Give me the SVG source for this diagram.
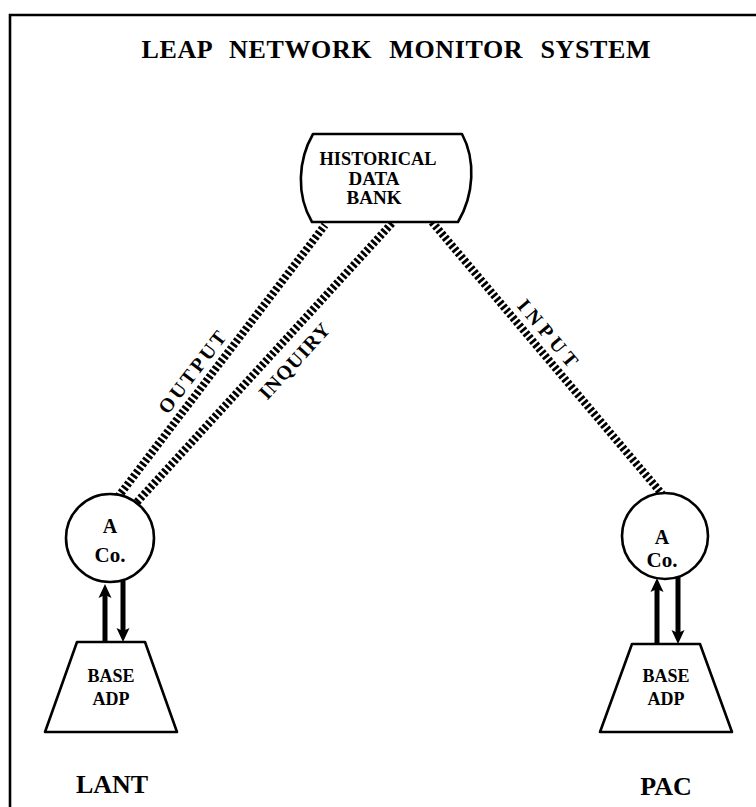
<svg xmlns="http://www.w3.org/2000/svg" width="756" height="807" viewBox="0 0 756 807">
<style>
  .t { font-family: "Liberation Serif", "Times New Roman", serif; font-weight: bold; fill: #000; text-anchor: middle; }
  .shape { fill: #fff; stroke: #000; stroke-width: 2.6; stroke-linejoin: round; }
  .hatch { fill: none; stroke: #000; stroke-width: 8; stroke-dasharray: 2.8 2.2; }
  .arrow { fill: none; stroke: #000; stroke-width: 5; marker-end: url(#head); }
  .frame { fill: none; stroke: #000; stroke-width: 2.6; }
</style>
<defs>
  <marker id="head" markerUnits="userSpaceOnUse" markerWidth="16" markerHeight="16" refX="6" refY="8" orient="auto">
    <path d="M0,1.5 L14,8 L0,14.5 L3,8 z" fill="#000"/>
  </marker>
</defs>
<rect width="756" height="807" fill="#fff"/>
<path class="frame" d="M10,807 L10,15 L756,15"/>
<text class="t" x="396" y="58" font-size="26" textLength="509" lengthAdjust="spacing" word-spacing="10">LEAP NETWORK MONITOR SYSTEM</text>

<g id="connectors">
  <line class="hatch" x1="118" y1="497" x2="325" y2="225"/>
  <line class="hatch" x1="137" y1="502" x2="393" y2="222"/>
  <line class="hatch" x1="432" y1="222" x2="662" y2="494" stroke-dasharray="2.6 1.6"/>
  <line class="arrow" x1="105" y1="642" x2="105" y2="592"/>
  <line class="arrow" x1="123" y1="581" x2="123" y2="634"/>
  <line class="arrow" x1="657" y1="644" x2="657" y2="586"/>
  <line class="arrow" x1="678" y1="577" x2="678" y2="636"/>
  <g transform="translate(192,372) rotate(-52.7)"><text class="t" x="0" y="7" font-size="20" textLength="98" lengthAdjust="spacing">OUTPUT</text></g>
  <g transform="translate(294,361) rotate(-47.6)"><text class="t" x="0" y="7" font-size="20" textLength="95" lengthAdjust="spacing">INQUIRY</text></g>
  <g transform="translate(548,333) rotate(49.8)"><text class="t" x="0" y="7" font-size="20" textLength="82" lengthAdjust="spacing">INPUT</text></g>
</g>

<g id="historical-data-bank">
  <path class="shape" d="M313,134 L462,134 C476,160 474,195 458,222 L312,222 C296,195 298,160 313,134 Z"/>
  <text class="t" x="378" y="165" font-size="19" textLength="117" lengthAdjust="spacingAndGlyphs">HISTORICAL</text>
  <text class="t" x="374" y="185" font-size="19">DATA</text>
  <text class="t" x="374" y="204" font-size="19">BANK</text>
</g>

<g id="lant-aco">
  <circle class="shape" cx="110" cy="538" r="44"/>
  <text class="t" x="110" y="533" font-size="20">A</text>
  <text class="t" x="110" y="562" font-size="21">Co.</text>
</g>
<g id="lant-base-adp">
  <path class="shape" d="M77,642 L145,642 L177,732 L45,732 Z"/>
  <text class="t" x="111" y="682" font-size="18">BASE</text>
  <text class="t" x="111" y="705" font-size="18">ADP</text>
</g>
<g id="pac-aco">
  <circle class="shape" cx="665" cy="536" r="43"/>
  <text class="t" x="662" y="544" font-size="20">A</text>
  <text class="t" x="662" y="567" font-size="21">Co.</text>
</g>
<g id="pac-base-adp">
  <path class="shape" d="M632,644 L700,644 L732,732 L600,732 Z"/>
  <text class="t" x="666" y="682" font-size="18">BASE</text>
  <text class="t" x="666" y="705" font-size="18">ADP</text>
</g>
<text id="lant" class="t" x="112" y="793" font-size="26">LANT</text>
<text id="pac" class="t" x="666" y="795" font-size="26">PAC</text>
</svg>
